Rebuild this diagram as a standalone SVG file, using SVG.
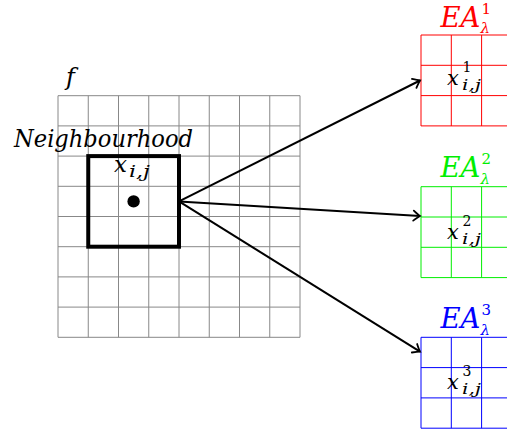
<svg xmlns="http://www.w3.org/2000/svg" width="507" height="432" viewBox="0 0 507 432">
<style>
  .m { font-family: "DejaVu Serif", "Liberation Serif", serif; font-style: italic; fill: #000; }
  .n { font-style: normal; }
  .grid { fill: none; stroke: #888; stroke-width: 1; }
  .conn { fill: none; stroke: #000; stroke-width: 2; }
  .red { fill: #ff0000; }
  .green { fill: #00ee00; }
  .blue { fill: #0000ff; }
</style>
<defs>
  <marker id="arr" markerUnits="userSpaceOnUse" markerWidth="14" markerHeight="14" refX="0" refY="0" viewBox="-8 -7 10 14" orient="auto" overflow="visible">
    <path d="M-6.5,-5 Q-2,-1.2 0,0 Q-2,1.2 -6.5,5" fill="none" stroke="#000" stroke-width="1.8" stroke-linecap="round"/>
  </marker>
</defs>
<rect width="507" height="432" fill="#fff"/>

<g id="f-grid">
  <path class="grid" d="M58,95.7V337.3 M88.25,95.7V337.3 M118.5,95.7V337.3 M148.75,95.7V337.3 M179,95.7V337.3 M209.25,95.7V337.3 M239.5,95.7V337.3 M269.75,95.7V337.3 M300,95.7V337.3
  M58,95.7H300 M58,125.9H300 M58,156.1H300 M58,186.3H300 M58,216.5H300 M58,246.7H300 M58,276.9H300 M58,307.1H300 M58,337.3H300"/>
  <text class="m" x="66" y="85" font-size="24">f</text>
</g>

<g id="neighbourhood">
  <text class="m" x="14" y="146.7" font-size="24" textLength="179" lengthAdjust="spacingAndGlyphs">Neighbourhood</text>
  <rect x="88.25" y="156.1" width="90.75" height="90.6" fill="none" stroke="#000" stroke-width="4"/>
  <text class="m" x="114" y="172" font-size="23">x</text>
  <text class="m" x="129" y="177" font-size="16" textLength="21" lengthAdjust="spacingAndGlyphs">i,j</text>
  <circle cx="133.6" cy="201.4" r="6.2" fill="#000"/>
</g>

<g id="ea1">
  <path d="M421,35V126 M451.3,35V126 M481.6,35V126 M421,35H507 M421,65.3H507 M421,95.6H507 M421,125.9H507" fill="none" stroke="#ff0000" stroke-width="1"/>
  <text class="m red" x="440.5" y="26.7" font-size="27" textLength="40" lengthAdjust="spacingAndGlyphs">EA</text>
  <text class="m red n" x="481.5" y="13.5" font-size="15">1</text>
  <text class="m red" x="480.5" y="33" font-size="15">λ</text>
  <text class="m" x="447" y="84.5" font-size="21">x</text>
  <text class="m n" x="462.5" y="71.5" font-size="14">1</text>
  <text class="m" x="462" y="89.5" font-size="15" textLength="19" lengthAdjust="spacingAndGlyphs">i,j</text>
</g>

<g id="ea2">
  <path d="M421,186.7V277.6 M451.3,186.7V277.6 M481.6,186.7V277.6 M421,186.7H507 M421,217H507 M421,247.3H507 M421,277.6H507" fill="none" stroke="#00ee00" stroke-width="1"/>
  <text class="m green" x="440.5" y="176.7" font-size="27" textLength="40" lengthAdjust="spacingAndGlyphs">EA</text>
  <text class="m green n" x="481.5" y="164" font-size="15">2</text>
  <text class="m green" x="480.5" y="183.5" font-size="15">λ</text>
  <text class="m" x="447" y="238.5" font-size="21">x</text>
  <text class="m n" x="462.5" y="225.5" font-size="14">2</text>
  <text class="m" x="462" y="243.5" font-size="15" textLength="19" lengthAdjust="spacingAndGlyphs">i,j</text>
</g>

<g id="ea3">
  <path d="M421,337.3V428.2 M451.3,337.3V428.2 M481.6,337.3V428.2 M421,337.3H507 M421,367.6H507 M421,397.9H507 M421,428.2H507" fill="none" stroke="#0000ff" stroke-width="1"/>
  <text class="m blue" x="440.5" y="328" font-size="27" textLength="40" lengthAdjust="spacingAndGlyphs">EA</text>
  <text class="m blue n" x="481.5" y="315" font-size="15">3</text>
  <text class="m blue" x="480.5" y="334.5" font-size="15">λ</text>
  <text class="m" x="447" y="388.5" font-size="21">x</text>
  <text class="m n" x="462.5" y="375.5" font-size="14">3</text>
  <text class="m" x="462" y="393.5" font-size="15" textLength="19" lengthAdjust="spacingAndGlyphs">i,j</text>
</g>

<g id="connectors">
  <line class="conn" x1="179" y1="201.4" x2="420" y2="80.5" marker-end="url(#arr)"/>
  <line class="conn" x1="179" y1="201.4" x2="420" y2="216" marker-end="url(#arr)"/>
  <line class="conn" x1="179" y1="201.4" x2="420" y2="351.7" marker-end="url(#arr)"/>
</g>
</svg>
